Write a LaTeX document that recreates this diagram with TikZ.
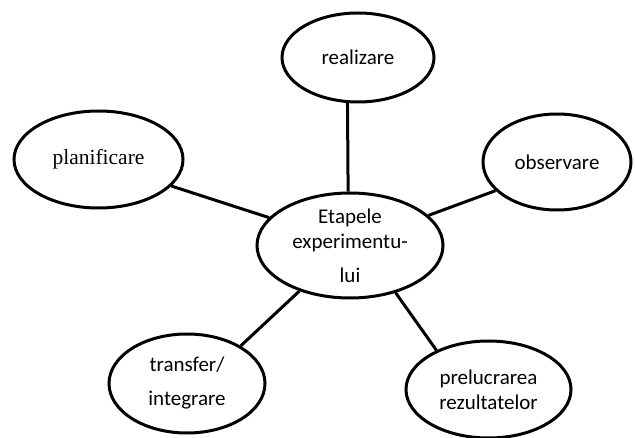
\documentclass[tikz,border=0pt]{standalone}
\usepackage{fontspec}
\setmainfont{Carlito}
\newfontfamily\timesfont{Liberation Serif}
\usepackage{tikz}
\usetikzlibrary{shapes.geometric}
\tikzset{
  bubble/.style={ellipse,draw=black,line width=3pt,inner sep=0pt,align=center,
    font=\fontsize{21}{25}\selectfont},
  hub/.style={bubble,minimum width=186pt,minimum height=105pt},
  spoke/.style={line width=3pt,draw=black}
}
\begin{document}
\begin{tikzpicture}[x=1pt,y=-1pt]
  \useasboundingbox (0,0) rectangle (635,438);
  \node[hub] (etape) at (350,245.5) {Etapele\\experimentu-\\[9pt]lui};
  \node[bubble,minimum width=152pt,minimum height=89pt] (realizare) at (358,57.5) {realizare};
  \node[bubble,minimum width=169pt,minimum height=97pt,font=\timesfont\fontsize{21.5}{25}\selectfont] (planificare) at (98.5,159.5) {planificare};
  \node[bubble,minimum width=148pt,minimum height=96pt] (observare) at (557,162) {observare};
  \node[bubble,minimum width=156pt,minimum height=99pt] (transfer) at (187,383.5) {transfer/\\[9pt]integrare};
  \node[bubble,minimum width=165pt,minimum height=97pt] (prelucrare) at (488.5,389.5) {prelucrarea\\rezultatelor};
  \draw[spoke] (realizare.-103) -- (etape.92);
  \draw[spoke] (planificare.-20.3) -- (etape.161.7);
  \draw[spoke] (observare.205) -- (etape.21.4);
  \draw[spoke] (transfer.35.5) -- (etape.222.9);
  \draw[spoke] (prelucrare.143.2) -- (etape.-46.5);
\end{tikzpicture}
\end{document}
